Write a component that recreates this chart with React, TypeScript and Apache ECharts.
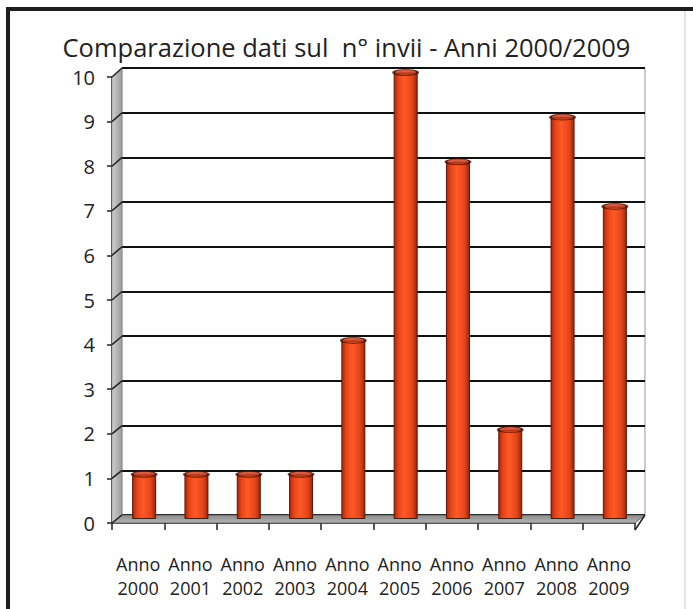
import React, { useEffect, useRef } from "react";
import * as echarts from "echarts";

const years = ["2000", "2001", "2002", "2003", "2004", "2005", "2006", "2007", "2008", "2009"];
const invii = [1, 1, 1, 1, 4, 10, 8, 2, 9, 7];
const yTicks = [0, 1, 2, 3, 4, 5, 6, 7, 8, 9, 10];
const labelPrefix = "Anno";
const titleText = "Comparazione dati sul  n° invii - Anni 2000/2009";

const FONT = "'Open Sans', 'DejaVu Sans', sans-serif";

export default function App() {
  const ref = useRef<HTMLDivElement>(null);
  useEffect(() => {
    const chart = echarts.init(ref.current!, null, { renderer: "svg" });
    const W = 693, H = 609;
    const front = { left: 112, right: W - 635, top: 77, bottom: H - 523 };
    const back = { left: 122, right: W - 645, top: 68, bottom: H - 515 };
    const mid = { left: 118, right: W - 641, top: 72.5, bottom: H - 519 };

    const valAxis = (gi: number, show: boolean, split: boolean) => ({
      type: "value",
      gridIndex: gi,
      min: 0,
      max: 10,
      interval: 1,
      axisLine: { show: show, lineStyle: { color: "#222", width: 1.5 } },
      axisTick: { show: show, length: 5, lineStyle: { color: "#222", width: 1.5 } },
      axisLabel: show
        ? { show: true, fontFamily: FONT, fontSize: 20, color: "#222", margin: 17 }
        : { show: false },
      splitLine: { show: split, lineStyle: { color: "#111", width: 2 } },
    });
    const catAxis = (gi: number, show: boolean, labelMode: number) => ({
      type: "category",
      gridIndex: gi,
      data: years,
      boundaryGap: true,
      position: "bottom",
      offset: 0,
      axisLine: { show: show, lineStyle: { color: "#222", width: 1.5 } },
      axisTick: { show: show, length: 7, inside: false, lineStyle: { color: "#222", width: 1.5 } },
      axisLabel: labelMode > 0
        ? {
            show: true,
            interval: 0,
            fontFamily: FONT,
            fontSize: 18,
            color: "#222",
            margin: labelMode === 1 ? 32 : 56,
            formatter: (v: string) => (labelMode === 1 ? labelPrefix : v),
          }
        : { show: false },
      splitLine: { show: false },
    });

    chart.setOption({
      animation: false,
      backgroundColor: "#fff",
      title: {
        text: titleText,
        left: "center",
        top: 29,
        textStyle: { fontFamily: FONT, fontSize: 25.5, fontWeight: "normal", color: "#222" },
      },
      grid: [
        { ...back, show: true, backgroundColor: "#fff", borderColor: "#999", borderWidth: 1 },
        { ...front },
        { ...mid },
      ],
      xAxis: [catAxis(0, false, 0), catAxis(1, true, 1), catAxis(2, false, 0), catAxis(1, false, 2)],
      yAxis: [valAxis(0, false, true), valAxis(1, true, false), valAxis(2, false, false)],
      series: [
        {
          type: "bar",
          xAxisIndex: 2,
          yAxisIndex: 2,
          data: invii,
          barWidth: 24,
          z: 5,
          itemStyle: {
            color: new echarts.graphic.LinearGradient(0, 0, 1, 0, [
              { offset: 0, color: "#a9280a" },
              { offset: 0.2, color: "#e8461a" },
              { offset: 0.45, color: "#ff5a26" },
              { offset: 0.8, color: "#e2441a" },
              { offset: 1, color: "#9a2408" },
            ]),
            borderColor: "#5a1806",
            borderWidth: 1,
          },
        },
        {
          type: "scatter",
          xAxisIndex: 2,
          yAxisIndex: 2,
          data: invii,
          symbol: "circle",
          symbolSize: [24, 6],
          z: 6,
          itemStyle: { color: "#c2381a", borderColor: "#3a1005", borderWidth: 1.5 },
        },
      ],
    });

    // 3D decorations: floor, left wall, diagonal connectors (computed from axis scales)
    const fp = (c: number, v: number) => chart.convertToPixel({ xAxisIndex: 1, yAxisIndex: 1 }, [c, v]) as number[];
    const bp = (c: number, v: number) => chart.convertToPixel({ xAxisIndex: 0, yAxisIndex: 0 }, [c, v]) as number[];
    const n = years.length;
    const f0 = fp(0, 0), f1 = fp(n - 1, 0);
    const b0 = bp(0, 0), b1 = bp(n - 1, 0);
    const halfF = (f1[0] - f0[0]) / (n - 1) / 2;
    const halfB = (b1[0] - b0[0]) / (n - 1) / 2;
    const fL = f0[0] - halfF, fR = f1[0] + halfF;
    const bL = b0[0] - halfB, bR = b1[0] + halfB;
    const fTop = fp(0, 10)[1], bTop = bp(0, 10)[1];
    const fBot = f0[1], bBot = b0[1];

    const graphics: any[] = [
      {
        type: "polygon",
        shape: { points: [[fL, fTop], [bL, bTop], [bL, bBot], [fL, fBot]] },
        style: {
          fill: new echarts.graphic.LinearGradient(0, 0, 1, 0, [
            { offset: 0, color: "#cfcfcf" },
            { offset: 1, color: "#9a9a9a" },
          ]),
          stroke: "#777",
          lineWidth: 0.5,
        },
        z: 1,
      },
      {
        type: "polygon",
        shape: { points: [[fL, fBot], [bL, bBot], [bR, bBot], [fR, fBot]] },
        style: {
          fill: new echarts.graphic.LinearGradient(0, 0, 0, 1, [
            { offset: 0, color: "#8c8c8c" },
            { offset: 1, color: "#b4b4b4" },
          ]),
          stroke: "#555",
          lineWidth: 0.8,
        },
        z: 1,
      },
      {
        type: "line",
        shape: { x1: fR, y1: fBot + 7, x2: bR, y2: bBot },
        style: { stroke: "#222", lineWidth: 1.5 },
        z: 2,
      },
    ];
    yTicks.forEach((v) => {
      const a = fp(0, v), b = bp(0, v);
      graphics.push({
        type: "line",
        shape: { x1: fL, y1: a[1], x2: bL, y2: b[1] },
        style: { stroke: "#222", lineWidth: 1.5 },
        z: 2,
      });
    });
    graphics.push({
      type: "polyline",
      shape: { points: [[8, H], [8, 9], [W, 9]] },
      style: { fill: "none", stroke: "#1e1e1e", lineWidth: 4 },
      z: 10,
    });
    graphics.push({
      type: "line",
      shape: { x1: 685, y1: 11, x2: 685, y2: H },
      style: { stroke: "#e4e4e4", lineWidth: 2 },
      z: 10,
    });
    chart.setOption({ graphic: graphics });

    return () => chart.dispose();
  }, []);
  return (
    <div
      ref={ref}
      style={{ position: "fixed", left: 0, top: 0, width: 693, height: 609 }}
    />
  );
}
